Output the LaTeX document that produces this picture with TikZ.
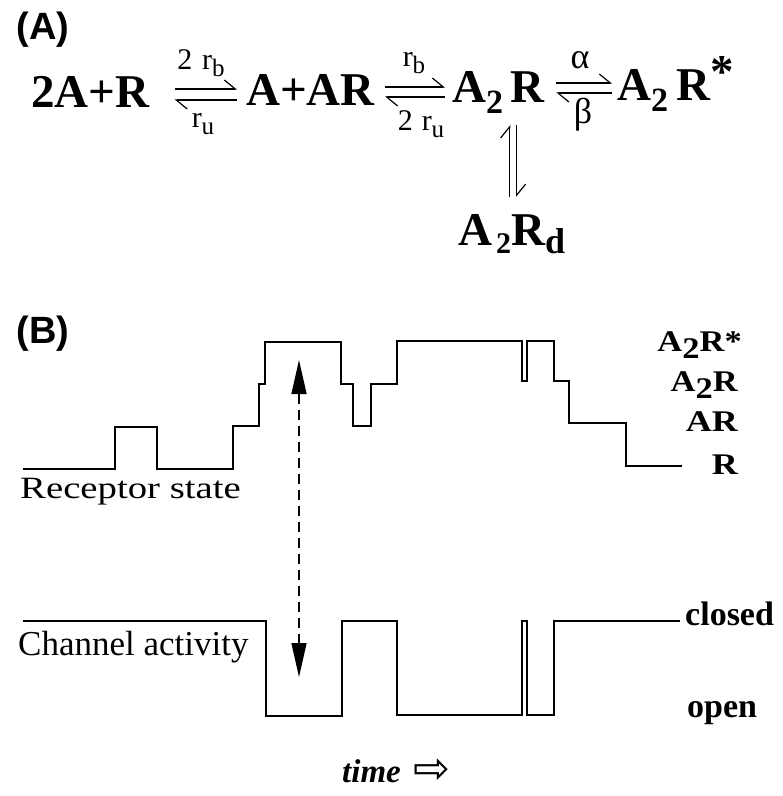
\documentclass[tikz,border=0pt]{standalone}
\usepackage{fontspec}
\setmainfont{Liberation Serif}
\newfontfamily\panelfont{Liberation Sans}
\newfontfamily\symbfont{DejaVu Sans}
\usetikzlibrary{arrows.meta,positioning}

% lowered, resized index (subscripts of the scheme)
\newcommand{\dnsub}[3]{\raisebox{-#1}{\fontsize{#2}{#2}\selectfont #3}}

\begin{document}
\begin{tikzpicture}[x=1pt, y=-1pt,
  panel/.style={font=\fontsize{38}{40}\selectfont\panelfont\bfseries, inner sep=0pt},
  species/.style={font=\fontsize{47}{50}\selectfont\bfseries, inner sep=0pt, anchor=base west},
  rate/.style={font=\fontsize{30}{32}\selectfont, inner sep=0pt},
  greek/.style={font=\fontsize{36}{38}\selectfont, inner sep=0pt},
  harp/.style={-{Straight Barb[harpoon, length=11pt, width=18pt, line width=1.2pt]}, line width=1.2pt},
  state/.style={font=\fontsize{30}{32}\selectfont\bfseries, inner sep=0pt, anchor=base east},
  trace/.style={line width=1.6pt, line join=miter},
  tag/.style={font=\fontsize{35}{38}\selectfont, inner sep=0pt, anchor=base west},
  lvl/.style={font=\fontsize{34}{36}\selectfont\bfseries, inner sep=0pt, anchor=base west},
  dasharr/.style={{Triangle[length=34pt, width=15pt]}-{Triangle[length=34pt, width=15pt]},
    line width=1.4pt, dash pattern=on 10pt off 6pt}
]
  \fill[white] (0,0) rectangle (783,796);
  \useasboundingbox (0,0) rectangle (783,796);

  % (A) kinetic scheme
  \node[panel] (lblA) at (43,30) {(A)};
  \node[species] (s1) at (31,107) {2A+R};
  \node[species] (s2) at (246,105) {A+AR};
  \node[species] (s3) at (452,102) {A\dnsub{11pt}{34}{2}\hspace{7pt}R};
  \node[species] (s4) at (617,100) {A\dnsub{11pt}{34}{2}\hspace{8pt}R\raisebox{13pt}{*}};
  \node[species] (s5) at (458,245) {A\hspace{4pt}\dnsub{8pt}{30}{2}R\dnsub{8pt}{36}{d}};

  \draw[harp] ([xshift=25pt,yshift=18pt]s1.base east) -- ([xshift=-9pt,yshift=16pt]s2.base west);
  \draw[harp] ([xshift=-9pt,yshift=5pt]s2.base west) -- ([xshift=25pt,yshift=7pt]s1.base east);
  \draw[harp] ([xshift=10pt,yshift=18pt]s2.base east) -- ([xshift=-7pt,yshift=15pt]s3.base west);
  \draw[harp] ([xshift=-7pt,yshift=5pt]s3.base west) -- ([xshift=10pt,yshift=8pt]s2.base east);
  \draw[harp] ([xshift=12pt,yshift=19pt]s3.base east) -- ([xshift=-5pt,yshift=17pt]s4.base west);
  \draw[harp] ([xshift=-5pt,yshift=7pt]s4.base west) -- ([xshift=12pt,yshift=9pt]s3.base east);
  \draw[harp, shorten <=17pt, shorten >=12pt] ([xshift=-2pt]s5.north) -- ([xshift=-2pt]s5.north |- s3.south);
  \draw[harp, shorten <=12pt, shorten >=17pt] ([xshift=5pt]s5.north |- s3.south) -- ([xshift=5pt]s5.north);

  \node[rate] (k1f) at (201,63) {2\hspace{10pt}r\dnsub{7pt}{25}{b}};
  \node[rate] (k1b) at (203,124) {r\dnsub{7pt}{25}{u}};
  \node[rate] (k2f) at (414,63) {r\dnsub{7pt}{25}{b}};
  \node[rate] (k2b) at (421,124) {2\hspace{9pt}r\dnsub{7pt}{25}{u}};
  \node[greek] (ka) at (580,60) {α};
  \node[greek] (kb) at (583,115) {β};

  % (B) receptor state and channel activity
  \node[panel] (lblB) at (43,334) {(B)};
  \draw[trace] (23,469) -| (115,427) -| (157,469) -| (233,426) -| (259,384) -| (265,342)
    -| (341,384) -| (353,426) -| (371,384) -| (397,341) -| (522,381) -| (527,341)
    -| (554,381) -| (569,423) -| (626,466) -- (682,466);
  \node[state] (st4) at (742,351) {\scalebox{1.15}[1]{A\dnsub{7pt}{30}{2}R*}};
  \node[state] (st3) at (738,391) {\scalebox{1.15}[1]{A\dnsub{7pt}{30}{2}R}};
  \node[state] (st2) at (738,431) {\scalebox{1.2}[1]{AR}};
  \node[state] (st1) at (738,474) {\scalebox{1.2}[1]{R}};
  \node[tag, font=\fontsize{31}{33}\selectfont] (rec) at (20,498) {\scalebox{1.25}[1]{Receptor state}};

  \draw[trace] (23,621) -| (266,716) -| (342,621) -| (397,715) -| (522,621) -| (527,715)
    -| (554,621) -- (680,621);
  \node[tag] (chan) at (18,655) {Channel activity};
  \node[lvl] (cls) at (685,625) {closed};
  \node[lvl] (opn) at (687,717) {open};

  \coordinate (tipup) at (299,360);
  \coordinate (tipdn) at (299,677);
  \draw[dasharr] (tipup) -- (tipdn);

  \node[font=\fontsize{33}{36}\selectfont\bfseries\itshape, inner sep=0pt, anchor=base west] (tm) at (342,782) {time};
  \node[font=\fontsize{44}{46}\selectfont\symbfont, inner sep=0pt, right=12pt of tm] (tmarr) {⇨};
\end{tikzpicture}
\end{document}
